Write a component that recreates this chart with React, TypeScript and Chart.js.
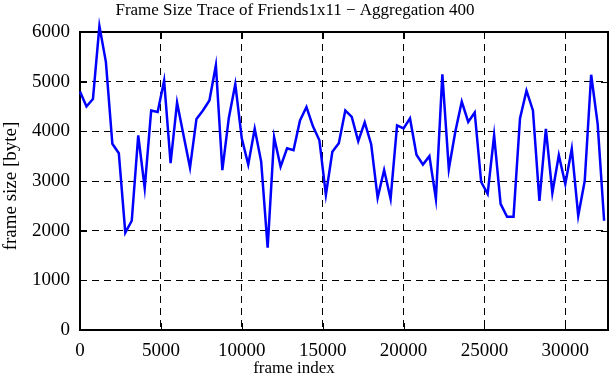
import React, { useEffect, useRef } from "react";
import { Chart, registerables } from "chart.js";

Chart.register(...registerables);

const frameIndex = [
  0, 400, 800, 1200, 1600, 2000, 2400, 2800, 3200, 3600,
  4000, 4400, 4800, 5200, 5600, 6000, 6400, 6800, 7200, 7600,
  8000, 8400, 8800, 9200, 9600, 10000, 10400, 10800, 11200, 11600,
  12000, 12400, 12800, 13200, 13600, 14000, 14400, 14800, 15200, 15600,
  16000, 16400, 16800, 17200, 17600, 18000, 18400, 18800, 19200, 19600,
  20000, 20400, 20800, 21200, 21600, 22000, 22400, 22800, 23200, 23600,
  24000, 24400, 24800, 25200, 25600, 26000, 26400, 26800, 27200, 27600,
  28000, 28400, 28800, 29200, 29600, 30000, 30400, 30800, 31200, 31600,
  32000, 32400,
];

const frameSize = [
  4800, 4500, 4650, 6120, 5400, 3750, 3560, 1960, 2200, 3920,
  2860, 4420, 4390, 5020, 3360, 4580, 3920, 3270, 4250, 4420,
  4620, 5330, 3220, 4270, 4950, 3860, 3330, 4050, 3390, 1660,
  3880, 3290, 3660, 3620, 4220, 4490, 4100, 3820, 2720, 3590,
  3760, 4420, 4290, 3800, 4180, 3740, 2660, 3220, 2640, 4120,
  4060, 4260, 3530, 3330, 3500, 2640, 5150, 3240, 3990, 4600,
  4190, 4380, 2980, 2740, 3920, 2540, 2280, 2280, 4260, 4820,
  4420, 2600, 4050, 2760, 3520, 2940, 3650, 2300, 3000, 5140,
  4150, 2200,
];

const xTicks = [0, 5000, 10000, 15000, 20000, 25000, 30000];
const yTicks = [0, 1000, 2000, 3000, 4000, 5000, 6000];
const xMax = 32640;
const yMax = 6000;

const titleText = "Frame Size Trace of Friends1x11 \u2212 Aggregation 400";
const xTitle = "frame index";
const yTitle = "frame size [byte]";

const FONT = "'Liberation Serif', 'Times New Roman', serif";

const framePlugin = {
  id: "gnuplotFrame",
  beforeDatasetsDraw(chart: any) {
    const { ctx, chartArea, scales } = chart;
    const { left, right, top, bottom } = chartArea;
    ctx.save();
    ctx.strokeStyle = "#000";
    ctx.lineWidth = 1;
    const tl = 7;
    ctx.beginPath();
    for (const v of xTicks) {
      const x = Math.round(scales.x.getPixelForValue(v)) + 0.5;
      ctx.moveTo(x, bottom);
      ctx.lineTo(x, bottom - tl);
      ctx.moveTo(x, top);
      ctx.lineTo(x, top + tl);
    }
    for (const v of yTicks) {
      const y = Math.round(scales.y.getPixelForValue(v)) + 0.5;
      ctx.moveTo(left, y);
      ctx.lineTo(left + tl, y);
      ctx.moveTo(right, y);
      ctx.lineTo(right - tl, y);
    }
    ctx.stroke();
    ctx.lineWidth = 2;
    ctx.strokeRect(left, top, right - left, bottom - top);
    ctx.restore();
  },
  afterDraw(chart: any) {
    const { ctx } = chart;
    ctx.save();
    ctx.fillStyle = "#000";
    ctx.textBaseline = "alphabetic";
    ctx.textAlign = "center";
    ctx.font = `17px ${FONT}`;
    ctx.fillText(titleText, 295, 15);
    ctx.fillText(xTitle, 294, 373);
    ctx.translate(16, 186);
    ctx.rotate(-Math.PI / 2);
    ctx.font = `19px ${FONT}`;
    ctx.fillText(yTitle, 0, 0);
    ctx.restore();
  },
};

export default function App() {
  const ref = useRef<HTMLCanvasElement | null>(null);

  useEffect(() => {
    document.body.style.margin = "0";
    const canvas = ref.current;
    if (!canvas) return;
    const data = frameIndex.map((f, i) => ({ x: f, y: frameSize[i] }));
    const chart = new Chart(canvas, {
      type: "line",
      data: {
        datasets: [
          {
            data,
            borderColor: "#0000ff",
            backgroundColor: "#0000ff",
            borderWidth: 2.5,
            pointRadius: 0,
            tension: 0,
            clip: false as any,
          },
        ],
      },
      options: {
        responsive: false,
        animation: false,
        layout: { padding: { left: 0, right: 3, top: 32, bottom: 0 } },
        plugins: {
          legend: { display: false },
          tooltip: { enabled: false },
          title: { display: false },
        },
        scales: {
          x: {
            type: "linear",
            min: 0,
            max: xMax,
            afterBuildTicks: (scale: any) => {
              scale.ticks = xTicks.map((v) => ({ value: v }));
            },
            afterFit: (scale: any) => {
              scale.height = 50;
            },
            ticks: {
              color: "#000",
              font: { family: FONT, size: 19 },
              padding: 10,
              maxRotation: 0,
              autoSkip: false,
              callback: (v: any) => String(v),
            },
            grid: {
              color: "#000",
              lineWidth: 1,
              drawTicks: false,
            },
            border: { display: false, dash: [7, 5] },
          },
          y: {
            type: "linear",
            min: 0,
            max: yMax,
            afterBuildTicks: (scale: any) => {
              scale.ticks = yTicks.map((v) => ({ value: v }));
            },
            afterFit: (scale: any) => {
              scale.width = 80;
            },
            ticks: {
              color: "#000",
              font: { family: FONT, size: 19 },
              padding: 10,
              autoSkip: false,
              callback: (v: any) => String(v),
            },
            grid: {
              color: "#000",
              lineWidth: 1,
              drawTicks: false,
            },
            border: { display: false, dash: [7, 5] },
          },
        },
      },
      plugins: [framePlugin],
    });
    return () => chart.destroy();
  }, []);

  return (
    <div style={{ width: 611, height: 380 }}>
      <canvas ref={ref} width={611} height={380} style={{ display: "block" }} />
    </div>
  );
}
